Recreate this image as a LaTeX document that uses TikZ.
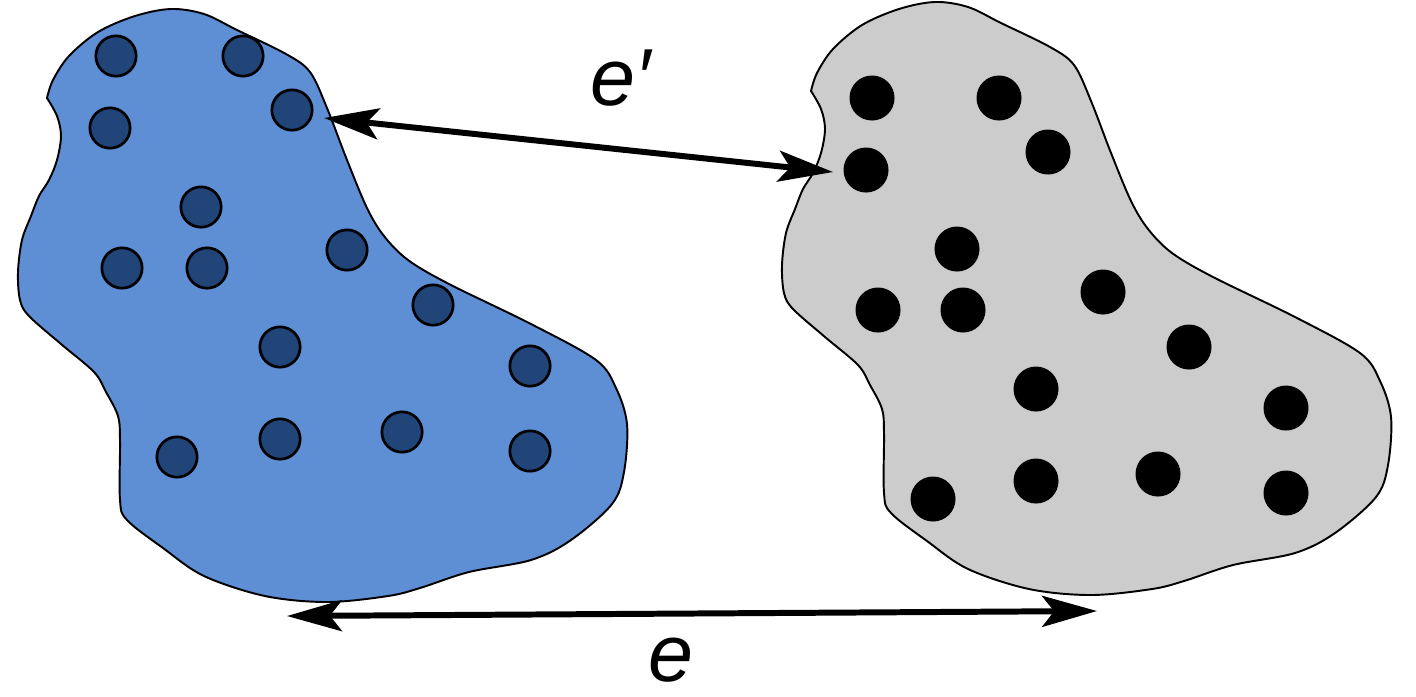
\documentclass[tikz,border=0pt]{standalone}
\usepackage{fontspec}
\setmainfont{Liberation Sans}
\usetikzlibrary{arrows.meta}

\definecolor{blobblue}{RGB}{94,142,212}
\definecolor{atomblue}{RGB}{33,68,121}
\definecolor{blobgray}{RGB}{204,204,204}

% outline of one cluster, in pixel units
\newcommand{\blobpath}{plot[smooth, tension=0.55] coordinates {
    (47,98) (53,80) (69,56) (98,32) (135,16) (171,9) (204,14) (237,30)
    (286,54) (310,72) (327,108) (347,160) (367,208) (384,236) (408,260)
    (449,284) (531,324) (596,360) (616,388) (627,424) (624,472) (612,504)
    (571,540) (531,560) (469,572) (420,588) (388,596) (327,602) (265,596)
    (204,576) (163,548) (127,520) (120,500) (120,440) (118,416) (106,392)
    (94,372) (61,344) (29,316) (20,300) (18,272) (22,240) (31,216) (39,196)
    (49,180) (57,160) (61,136) (57,116) (47,98)} -- cycle}

\begin{document}
\begin{tikzpicture}[x=0.01cm, y=-0.01cm,
    blueatom/.style={circle, draw, line width=0.77pt, fill=atomblue, inner sep=0pt, minimum size=0.403cm},
    grayatom/.style={circle, fill=black, inner sep=0pt, minimum size=0.45cm},
    link/.style={line width=1.7pt, {Stealth[length=15.6pt, width=8.8pt, inset=3.4pt]}-{Stealth[length=15.6pt, width=8.8pt, inset=3.4pt]}},
    lbl/.style={font=\fontsize{23}{27}\selectfont\itshape, inner sep=0pt}]
    \useasboundingbox (0,0) rectangle (1416,696);

    \draw[line width=0.55pt, fill=blobblue] \blobpath;
    \draw[line width=0.55pt, fill=blobgray, shift={(764,-7)}] \blobpath;

    \foreach \x/\y [count=\i] in {116/56, 243/56, 292/110, 110/128, 201/207,
        122/268, 207/268, 347/250, 433/305, 280/347, 530/366, 177/457,
        280/439, 402/432, 530/451} {
        \node[blueatom] (b\i) at (\x,\y) {};
        \node[grayatom] (g\i) at (\x+756,\y+42) {};
    }

    \coordinate (epL) at (324,118);
    \coordinate (epR) at (833,172);
    \draw[link] (epL) -- (epR);

    \coordinate (eL) at (287,616);
    \coordinate (eR) at (1097,611);
    \draw[link] (eL) -- (eR);

    \node[lbl, anchor=base] (ep) at (621,105) {e\symbol{"2032}};
    \node[lbl, anchor=base] (e) at (671,681) {e};
\end{tikzpicture}
\end{document}
